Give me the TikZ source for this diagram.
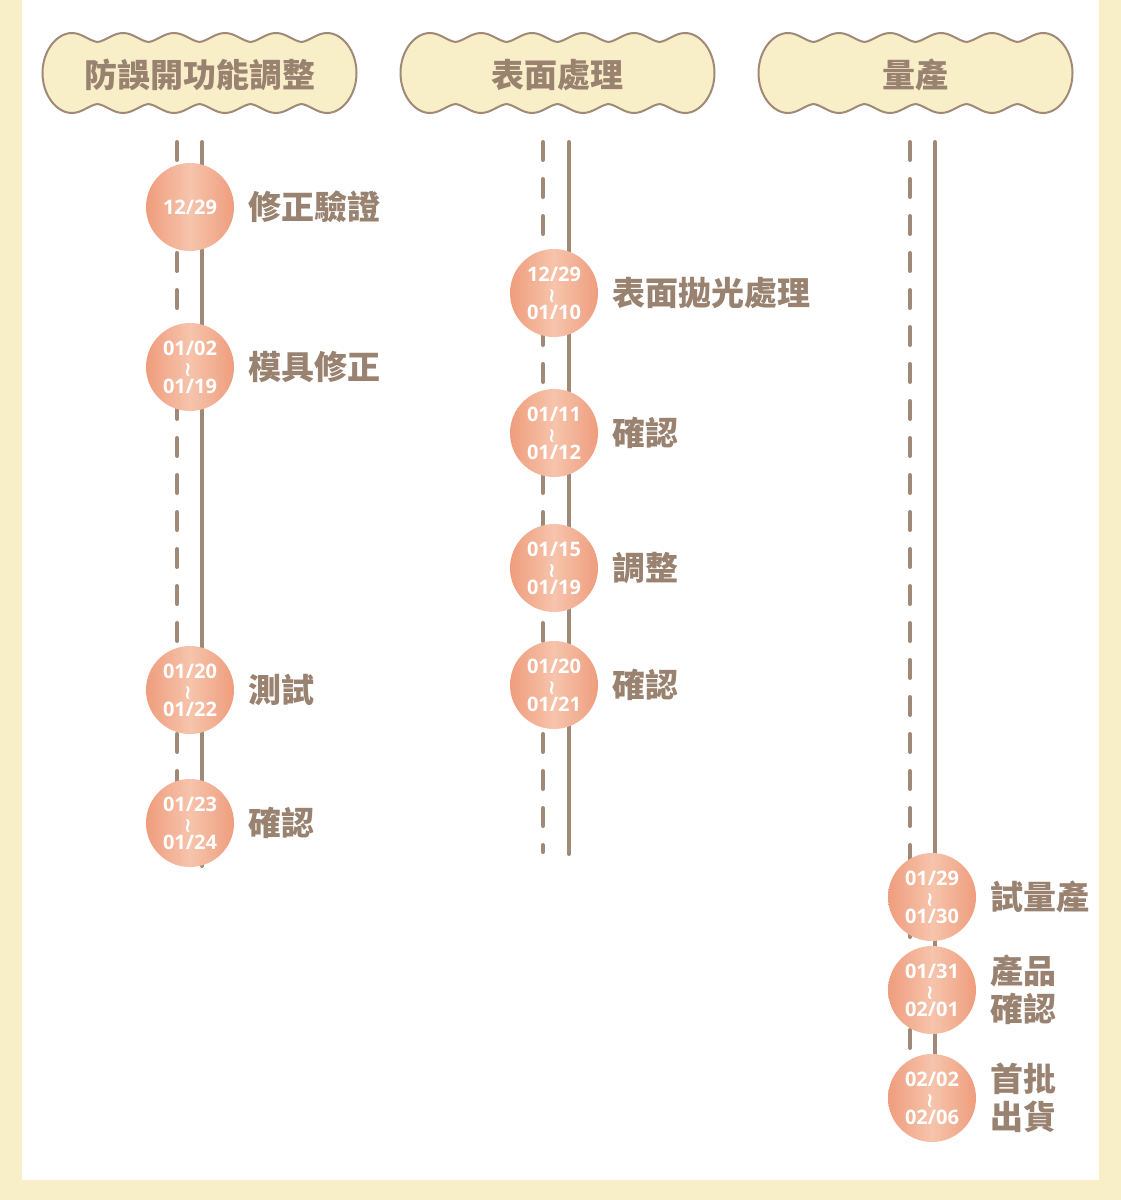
\documentclass[tikz,border=0pt]{standalone}
\usepackage{fontspec}
\newfontfamily\cjk{Noto Sans CJK TC}
\newfontfamily\datefont{Open Sans}
\newfontfamily\symfont{DejaVu Sans}
\usetikzlibrary{positioning}

\definecolor{frameyellow}{HTML}{F8EEC7}
\definecolor{cloudfill}{HTML}{F8EEC8}
\definecolor{brownline}{HTML}{A08977}
\definecolor{browntext}{HTML}{9A8270}
\definecolor{peach}{HTML}{EF9D7D}
\definecolor{peachlight}{HTML}{F6C4AC}

% small vertical squiggle between two dates
\newcommand\datetil{\\\rotatebox[origin=c]{90}{\symfont\bfseries\fontsize{20}{20}\selectfont\char"007E}\\}

\begin{document}
\begin{tikzpicture}[
    x=1pt, y=-1pt,
    % Estilos
    every node/.style={font=\cjk\bfseries\fontsize{33}{38}\selectfont, text=browntext},
    cloudline/.style={draw=brownline, fill=cloudfill, line width=2pt},
    track/.style={draw=brownline, line width=4pt, line cap=round},
    dashtrack/.style={track, dash pattern=on 18pt off 19pt},
    stone/.style={circle, minimum size=88pt, inner sep=0pt, align=center,
                  left color=peach, right color=peach, middle color=peachlight,
                  text=white, font=\datefont\bfseries\fontsize{20}{19}\selectfont},
    task/.style={right=14pt of #1, inner sep=0pt, align=left},
    cloud/.pic={
        \path[cloudline] (-157,0) .. controls (-157,-22) and (-143,-40) .. (-127.5,-40)
            foreach \k in {1,...,5}{ .. controls +(10,0) and +(-8,-1) .. ++(25.5,9)
                                     .. controls +(8,-1) and +(-10,0) .. ++(25.5,-9) }
            .. controls (143,-40) and (157,-22) .. (157,0)
            .. controls (157,22) and (143,40) .. (127.5,40)
            foreach \k in {1,...,5}{ .. controls +(-10,0) and +(8,1) .. ++(-25.5,-9)
                                     .. controls +(-8,1) and +(10,0) .. ++(-25.5,9) }
            .. controls (-143,40) and (-157,22) .. (-157,0) -- cycle;
    }
]

% Moldura
\useasboundingbox (0,0) rectangle (1121,1200);
\fill[frameyellow] (0,0) rectangle (1121,1200);
\fill[white] (22,0) rectangle (1099,1180);

% Cabeçalhos
\pic at (199.5,73) {cloud};
\pic at (557.5,73) {cloud};
\pic at (915.5,73) {cloud};
\node (head1) at (199.5,75) {防誤開功能調整};
\node (head2) at (557.5,75) {表面處理};
\node (head3) at (915.5,75) {量產};

% Trilhos
\coordinate (d1top) at (177,142); \coordinate (d1end) at (177,866);
\coordinate (s1top) at (202,142); \coordinate (s1end) at (202,866);
\coordinate (d2top) at (543,142); \coordinate (d2end) at (543,852);
\coordinate (s2top) at (569,142); \coordinate (s2end) at (569,854);
\coordinate (d3top) at (910,142); \coordinate (d3end) at (910,1100);
\coordinate (s3top) at (935,142); \coordinate (s3end) at (935,1100);

\draw[dashtrack] (d1top) -- (d1end);
\draw[track] (s1top) -- (s1end);
\draw[dashtrack] (d2top) -- (d2end);
\draw[track] (s2top) -- (s2end);
\draw[dashtrack] (d3top) -- (d3end);
\draw[track] (s3top) -- (s3end);

% Coluna 1
\node[stone] (verify) at (190,207) {12/29};
\node[task=verify] (verify-t) {修正驗證};
\node[stone] (mold) at (190,367) {01/02\datetil 01/19};
\node[task=mold] (mold-t) {模具修正};
\node[stone] (test) at (190,690) {01/20\datetil 01/22};
\node[task=test] (test-t) {測試};
\node[stone] (check1) at (190,823) {01/23\datetil 01/24};
\node[task=check1] (check1-t) {確認};

% Coluna 2
\node[stone] (polish) at (554,293) {12/29\datetil 01/10};
\node[task=polish] (polish-t) {表面拋光處理};
\node[stone] (check2) at (554,433) {01/11\datetil 01/12};
\node[task=check2] (check2-t) {確認};
\node[stone] (adjust) at (554,568) {01/15\datetil 01/19};
\node[task=adjust] (adjust-t) {調整};
\node[stone] (check3) at (554,685) {01/20\datetil 01/21};
\node[task=check3] (check3-t) {確認};

% Coluna 3
\node[stone] (trial) at (932,897) {01/29\datetil 01/30};
\node[task=trial] (trial-t) {試量產};
\node[stone] (prodcheck) at (932,990) {01/31\datetil 02/01};
\node[task=prodcheck] (prodcheck-t) {產品\\確認};
\node[stone] (ship) at (932,1098) {02/02\datetil 02/06};
\node[task=ship] (ship-t) {首批\\出貨};

\end{tikzpicture}
\end{document}
